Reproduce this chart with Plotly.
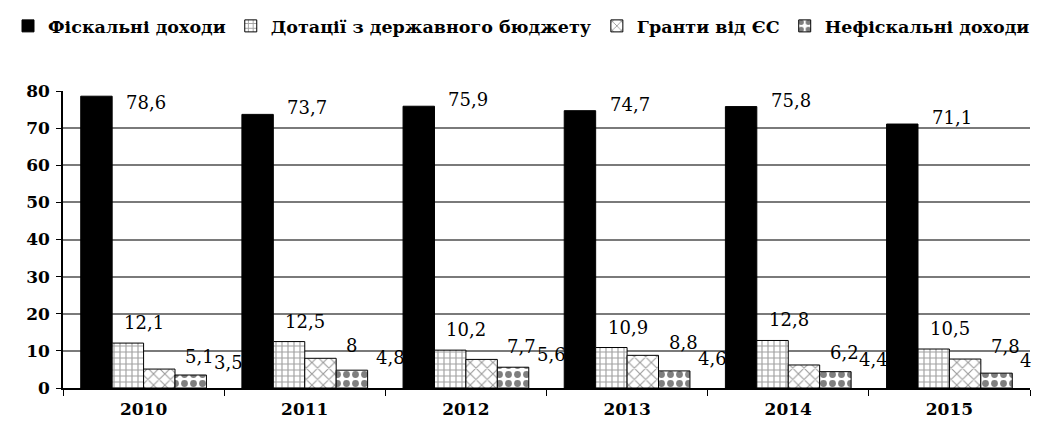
import plotly.graph_objects as go

years = ["2010", "2011", "2012", "2013", "2014", "2015"]
series_names = ["Фіскальні доходи", "Дотації з державного бюджету", "Гранти від ЄС", "Нефіскальні доходи"]
fiscal = [78.6, 73.7, 75.9, 74.7, 75.8, 71.1]
subsidies = [12.1, 12.5, 10.2, 10.9, 12.8, 10.5]
grants = [5.1, 8, 7.7, 8.8, 6.2, 7.8]
nonfiscal = [3.5, 4.8, 5.6, 4.6, 4.4, 4]
series_values = [fiscal, subsidies, grants, nonfiscal]
y_ticks = [0, 10, 20, 30, 40, 50, 60, 70, 80]

FONT = "DejaVu Serif"
W, H = 1053, 429
# page has an 8px body margin; margins compensate for it
ML, MR, MT, MB = 55, 31, 83, 49
BARGAP = 0.22

styles = [
    dict(color="black", pattern=dict(shape="")),
    dict(color="white", pattern=dict(shape="+", fgcolor="#444", size=6, solidity=0.35)),
    dict(color="white", pattern=dict(shape="x", fgcolor="#333", size=8, solidity=0.25)),
    dict(color="white", pattern=dict(shape=".", fgcolor="black", size=9, solidity=0.45)),
]

fig = go.Figure()
for name, vals, st in zip(series_names, series_values, styles):
    fig.add_trace(go.Bar(
        x=years, y=vals, name=name,
        marker=dict(color=st["color"], pattern=st["pattern"],
                    line=dict(color="black", width=1)),
    ))

def fmt(v):
    s = ("%g" % v)
    return s.replace(".", ",")

plot_w = W - ML - MR
plot_h = H - MT - MB
cat_w = plot_w / len(years)
bar_w = cat_w * (1 - BARGAP) / len(series_values)
# label horizontal placement per series (pixels relative to bar)
label_dx = [bar_w / 2 + 12, -bar_w / 2 + 10, bar_w / 2 + 8, bar_w / 2 + 6]
label_dy = [-6, 8, 0, 0]
annotations = []
for k, vals in enumerate(series_values):
    center_off = (k - (len(series_values) - 1) / 2) * bar_w
    for i, v in enumerate(vals):
        near_top = v > 76
        annotations.append(dict(
            x=i, y=v, xref="x", yref="y", text=fmt(v), showarrow=False,
            xanchor="left", yanchor="top" if near_top else "bottom",
            xshift=center_off + label_dx[k],
            yshift=6 if near_top else label_dy[k],
            font=dict(family=FONT, size=18, color="black"),
        ))

fig.update_layout(
    width=W, height=H,
    margin=dict(l=ML, r=MR, t=MT, b=MB, autoexpand=False),
    paper_bgcolor="white", plot_bgcolor="white",
    barmode="group", bargap=BARGAP, bargroupgap=0,
    showlegend=True,
    legend=dict(orientation="h", x=-ML / plot_w, y=1 + MT / plot_h,
                xanchor="left", yanchor="top",
                font=dict(family=FONT, size=17.5, color="black", weight="bold"),
                itemwidth=30, tracegroupgap=0, traceorder="normal"),
    annotations=annotations,
    xaxis=dict(type="category", range=[-0.5, len(years) - 0.5], autorange=False,
               showline=True, linecolor="black", linewidth=1.5,
               ticks="outside", tickson="boundaries", ticklen=6, tickcolor="black",
               tickangle=0, ticklabelstandoff=5,
               tickfont=dict(family=FONT, size=17, color="black", weight="bold"),
               showgrid=False),
    yaxis=dict(range=[0, 80], tickvals=y_ticks, showline=True, linecolor="black", linewidth=1.5,
               ticks="outside", ticklen=5, tickcolor="black", ticklabelstandoff=3,
               tickfont=dict(family=FONT, size=17, color="black", weight="bold"),
               showgrid=True, gridcolor="#7a7a7a", gridwidth=2, zeroline=False),
)

fig.write_html("out.html")
